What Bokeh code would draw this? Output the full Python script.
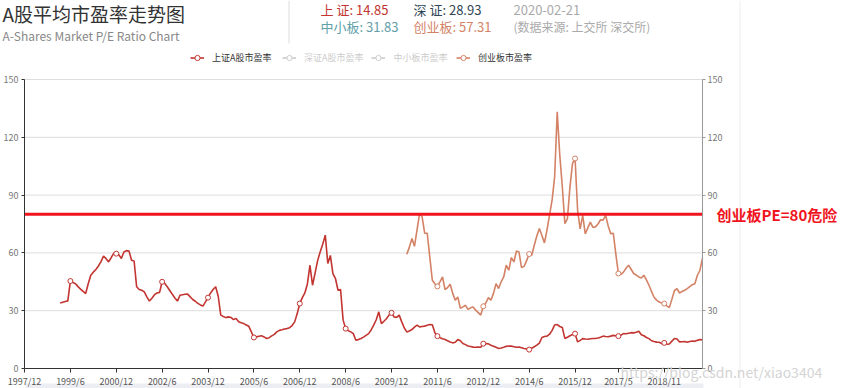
from bokeh.plotting import figure
from bokeh.models import (Range1d, LinearAxis, FixedTicker, Label, Legend, LegendItem,
                          BoxAnnotation)
from bokeh.embed import file_html
from bokeh.resources import INLINE

# ---------------- data ----------------
AXIS_START = "1997/12"
AXIS_END = "2020/2"
TICK_LABELS = ["1997/12", "1999/6", "2000/12", "2002/6", "2003/12", "2005/6", "2006/12",
               "2008/6", "2009/12", "2011/6", "2012/12", "2014/6", "2015/12", "2017/5", "2018/11"]
Y_TICKS = [0, 30, 60, 90, 120, 150]

SERIES_NAMES = ["上证A股市盈率", "深证A股市盈率", "中小板市盈率", "创业板市盈率"]

# 上证A股市盈率, monthly from SH_START
SH_START = "1999/2"
SH_PE = [
    34.0, 34.4, 34.8, 35.1, 45.4, 44.6, 44.0, 42.5, 41.2, 40.0, 38.9,            # 1999/2-1999/12
    44.0, 48.4, 50.0, 51.4, 53.2, 55.5, 58.3, 57.0, 55.3, 57.5, 59.8, 59.6,      # 2000
    59.0, 57.1, 60.5, 61.2, 61.0, 56.2, 55.8, 42.4, 41.0, 40.6, 39.8, 37.2,      # 2001
    35.0, 36.5, 38.3, 39.2, 39.5, 45.0, 44.2, 42.4, 40.5, 38.5, 36.6, 35.0,      # 2002
    38.0, 38.3, 38.5, 38.6, 37.2, 35.8, 34.9, 33.8, 33.0, 32.4, 34.6, 36.8,      # 2003
    39.2, 41.0, 42.4, 37.5, 27.7, 27.0, 26.4, 26.8, 26.5, 25.4, 25.9, 24.3,      # 2004
    23.7, 23.3, 22.6, 21.9, 19.0, 16.1, 16.4, 16.7, 17.0, 16.4, 15.6, 16.0,      # 2005
    16.9, 17.7, 19.0, 19.8, 20.1, 20.5, 20.7, 21.2, 22.3, 24.2, 28.5, 33.7,      # 2006
    36.8, 39.2, 44.0, 53.6, 43.2, 49.5, 56.0, 60.5, 64.5, 69.2, 54.5, 58.7,      # 2007
    49.3, 46.7, 40.6, 41.0, 25.1, 20.7, 19.6, 19.0, 18.1, 14.7, 15.0, 15.6,      # 2008
    16.3, 17.2, 18.1, 20.0, 22.5, 25.3, 29.4, 23.3, 24.5, 25.8, 27.7, 28.9,      # 2009
    26.8, 26.5, 27.7, 24.2, 21.0, 19.0, 19.5, 20.2, 21.5, 22.5, 21.6, 21.8,      # 2010
    22.0, 22.4, 22.8, 22.7, 18.5, 16.8, 16.0, 15.4, 15.0, 14.4, 13.8, 13.3,      # 2011
    13.6, 15.0, 14.4, 13.0, 12.4, 11.7, 11.4, 11.1, 11.0, 11.2, 11.0, 12.9,      # 2012
    13.0, 12.8, 12.1, 11.6, 11.0, 10.4, 10.6, 11.0, 11.5, 11.7, 11.6, 11.3,      # 2013
    11.0, 11.2, 10.8, 10.4, 10.2, 9.8, 10.5, 11.3, 12.1, 13.2, 16.1, 16.6,       # 2014
    16.8, 17.8, 19.8, 22.6, 22.8, 21.8, 21.3, 15.6, 16.2, 17.0, 17.6, 18.1,      # 2015
    13.8, 14.6, 15.5, 15.3, 15.2, 15.4, 15.6, 15.6, 15.8, 16.2, 16.8, 16.6,      # 2016
    16.5, 16.8, 17.2, 17.0, 16.8, 17.3, 18.1, 18.0, 18.3, 18.6, 18.5, 18.8,      # 2017
    19.3, 17.5, 17.0, 16.1, 15.5, 14.4, 14.0, 13.7, 13.6, 12.9, 13.3, 12.6,      # 2018
    12.7, 14.2, 15.6, 15.3, 13.8, 13.9, 14.0, 13.6, 14.0, 14.3, 14.1, 14.6,      # 2019
    15.0, 14.85,                                                                 # 2020
]

# 创业板市盈率, monthly from CY_START
CY_START = "2010/6"
CY_PE = [
    59.3, 63.0, 67.5, 63.4, 72.0, 80.4, 78.7,                                    # 2010/6-12
    70.2, 70.2, 58.0, 45.8, 44.0, 42.6, 45.0, 47.5, 41.0, 42.0, 43.7, 39.0,      # 2011
    35.4, 37.1, 31.2, 32.0, 32.8, 30.7, 31.5, 31.9, 30.3, 29.0, 27.7, 32.3,      # 2012
    34.0, 36.8, 35.4, 39.0, 44.0, 41.5, 45.0, 47.5, 53.6, 51.0, 57.6, 55.3,      # 2013
    61.0, 60.5, 52.4, 53.0, 56.0, 59.4, 58.8, 64.0, 68.8, 72.7, 69.0, 65.2,      # 2014
    72.0, 79.7, 87.5, 99.5, 133.3, 110.8, 94.3, 75.2, 77.8, 94.3, 106.5, 109.0,  # 2015
    82.1, 72.5, 79.5, 69.9, 73.0, 76.0, 73.3, 73.5, 75.0, 77.2, 77.0, 79.5,      # 2016
    74.0, 70.0, 70.2, 59.4, 49.3, 48.9, 50.0, 52.0, 53.6, 51.5, 49.3, 48.5,      # 2017
    47.5, 47.0, 48.4, 46.0, 43.2, 40.0, 37.0, 35.5, 34.5, 34.0, 33.7, 32.5,      # 2018
    31.6, 36.0, 40.5, 41.4, 39.2, 40.0, 40.6, 41.5, 42.5, 43.5, 44.0, 48.4,      # 2019
    51.0, 57.31,                                                                 # 2020
]

DANGER_LEVEL = 80
DANGER_TEXT = "创业板PE=80危险"

TITLE = "A股平均市盈率走势图"
SUBTITLE = "A-Shares Market P/E Ratio Chart"
LATEST_LABELS = ["上 证", "深 证", "中小板", "创业板"]
LATEST_VALUES = ["14.85", "28.93", "31.83", "57.31"]
DATE_TEXT = "2020-02-21"
SOURCE_TEXT = "(数据来源: 上交所 深交所)"
WATERMARK = "https://blog.csdn.net/xiao3404"

# ---------------- helpers ----------------
def month_index(s):
    y, m = s.split("/")
    return (int(y) - 1997) * 12 + int(m) - 12

def month_label(i):
    t = i + 11
    return f"{1997 + t // 12}/{t % 12 + 1}"

def series_xy(start, values):
    s0 = month_index(start)
    return [s0 + k for k in range(len(values))], list(values)

CJK = "Noto Sans CJK SC"
RED, DARK, TEAL, ORANGE = "#c23531", "#2f4554", "#61a0a8", "#d48265"
ALERT = "#f0141e"
OFF = "#cccccc"
NAN = float("nan")

W, H = 845, 388
# plot-area edges inside the canvas (px)
PL, PR, PT, PB = 24, 702, 79, 368

X0, X1 = month_index(AXIS_START), month_index(AXIS_END)
Y0, Y1 = Y_TICKS[0], Y_TICKS[-1]
kx = (PR - PL) / (X1 - X0)
ky = (PB - PT) / (Y1 - Y0)

# the frame covers the whole canvas; axes are pinned at the plot-area edges
p = figure(width=W, height=H, output_backend="svg", toolbar_location=None,
           x_range=Range1d(X0 - PL / kx, X1 + (W - PR) / kx),
           y_range=Range1d(Y0 - (H - PB) / ky, Y1 + PT / ky),
           min_border=0, min_border_left=0, min_border_right=0,
           min_border_top=0, min_border_bottom=0)
p.outline_line_color = None
p.background_fill_color = "white"
p.border_fill_color = "white"
p.grid.visible = False

tick_idx = [month_index(t) for t in TICK_LABELS]
xa = p.xaxis[0]
xa.fixed_location = Y0
xa.bounds = (X0, X1)
xa.ticker = FixedTicker(ticks=tick_idx)
xa.major_label_overrides = {i: month_label(i) for i in tick_idx}
xa.axis_line_color = "#333"
xa.major_tick_line_color = "#333"
xa.major_tick_out = 4
xa.major_tick_in = 0
xa.minor_tick_line_color = None
xa.major_label_standoff = 2
xa.major_label_text_font_size = "9px"
xa.major_label_text_color = "#555"
xa.major_label_text_font = CJK

ya = p.yaxis[0]
ya.fixed_location = X0
ya.bounds = (Y0, Y1)
ya.ticker = FixedTicker(ticks=Y_TICKS)
ya.axis_line_color = "#333"
ya.major_tick_line_color = "#333"
ya.major_tick_out = 3
ya.major_tick_in = 0
ya.minor_tick_line_color = None
ya.major_label_standoff = 3
ya.major_label_text_font_size = "9px"
ya.major_label_text_color = "#777"
ya.major_label_text_font = CJK

ry = LinearAxis(ticker=FixedTicker(ticks=Y_TICKS), fixed_location=X1, bounds=(Y0, Y1))
ry.axis_line_color = "#999"
ry.major_tick_line_color = "#999"
ry.major_tick_out = 3
ry.major_tick_in = 0
ry.minor_tick_line_color = None
ry.major_label_standoff = 2
ry.major_label_text_font_size = "9px"
ry.major_label_text_color = "#777"
ry.major_label_text_font = CJK
p.add_layout(ry, "right")

# horizontal grid lines limited to the plot area
grid_y = [t for t in Y_TICKS if t > Y0]
p.segment(x0=[X0] * len(grid_y), x1=[X1] * len(grid_y), y0=grid_y, y1=grid_y,
          line_color="#dddddd", line_width=1)

# series
sx_, sy_ = series_xy(SH_START, SH_PE)
cx_, cy_ = series_xy(CY_START, CY_PE)
sh_line = p.line(sx_, sy_, line_color=RED, line_width=1.6)
cy_line = p.line(cx_, cy_, line_color=ORANGE, line_width=1.6)
tick_set = set(tick_idx)
sh_mx = [x for x in sx_ if x in tick_set]
sh_my = [y for x, y in zip(sx_, sy_) if x in tick_set]
cy_mx = [x for x in cx_ if x in tick_set]
cy_my = [y for x, y in zip(cx_, cy_) if x in tick_set]
sh_pts = p.scatter(sh_mx, sh_my, marker="circle", size=5, fill_color="white",
                   line_color=RED, line_width=1)
cy_pts = p.scatter(cy_mx, cy_my, marker="circle", size=5, fill_color="white",
                   line_color=ORANGE, line_width=1)
# the two series that are switched off in the legend (nothing drawn in the plot)
sz_line = p.line([X0], [NAN], line_color=OFF, line_width=1.6)
sz_pts = p.scatter([X0], [NAN], marker="circle", size=5, fill_color="white", line_color=OFF)
zx_line = p.line([X0], [NAN], line_color=OFF, line_width=1.6)
zx_pts = p.scatter([X0], [NAN], marker="circle", size=5, fill_color="white", line_color=OFF)

# danger line
p.segment(x0=[X0], x1=[X1], y0=[DANGER_LEVEL], y1=[DANGER_LEVEL], line_color=ALERT, line_width=3)

def sy(py):
    return H - py

p.add_layout(Label(x=716, y=DANGER_LEVEL, x_units="screen", y_units="data",
                   text=DANGER_TEXT, text_color=ALERT, text_font=CJK, text_font_style="bold",
                   text_font_size="15px", text_baseline="middle", text_align="left"))

# legend (three pieces so the switched-off entries can be grey)
def make_legend(items, x, color):
    lg = Legend(items=items, orientation="horizontal", location=(x, sy(64)),
                background_fill_alpha=0, border_line_alpha=0, padding=0, margin=0, spacing=8,
                label_standoff=8, glyph_width=14, glyph_height=13, label_height=12,
                label_text_font_size="9px", label_text_color=color, label_text_font=CJK)
    p.add_layout(lg)

make_legend([LegendItem(label=SERIES_NAMES[0], renderers=[sh_line, sh_pts])], 190, "#333")
make_legend([LegendItem(label=SERIES_NAMES[1], renderers=[sz_line, sz_pts]),
             LegendItem(label=SERIES_NAMES[2], renderers=[zx_line, zx_pts])], 282, OFF)
make_legend([LegendItem(label=SERIES_NAMES[3], renderers=[cy_line, cy_pts])], 456, "#333")

# header texts
def header(text, x, y, size, color):
    p.add_layout(Label(x=x, y=sy(y), x_units="screen", y_units="screen", text=text,
                       text_font=CJK, text_font_size=size, text_color=color,
                       text_baseline="middle", text_align="left"))

header(TITLE, 2, 13, "19px", "#333")
header(SUBTITLE, 2, 35, "12px", "#888")
header(f"{LATEST_LABELS[0]}: {LATEST_VALUES[0]}", 320, 9, "13px", RED)
header(f"{LATEST_LABELS[1]}: {LATEST_VALUES[1]}", 413, 9, "13px", DARK)
header(DATE_TEXT, 513, 9, "13px", "#aaa")
header(f"{LATEST_LABELS[2]}: {LATEST_VALUES[2]}", 320, 26, "13px", TEAL)
header(f"{LATEST_LABELS[3]}: {LATEST_VALUES[3]}", 413, 26, "13px", ORANGE)
header(SOURCE_TEXT, 513, 26, "12px", "#aaa")
header(WATERMARK, 620, 371, "14px", "#d4d4d4")

# page decorations: header separator, right page edge, bottom band
p.add_layout(BoxAnnotation(left=288, right=289, top=sy(0), bottom=sy(43),
                           left_units="screen", right_units="screen", top_units="screen",
                           bottom_units="screen", fill_color="#dddddd", fill_alpha=1,
                           line_alpha=0))
p.add_layout(BoxAnnotation(left=739, right=740, top=sy(0), bottom=sy(388),
                           left_units="screen", right_units="screen", top_units="screen",
                           bottom_units="screen", fill_color="#eeeeee", fill_alpha=1,
                           line_alpha=0, level="underlay"))
p.add_layout(BoxAnnotation(left=25, right=703, top=sy(383), bottom=sy(388),
                           left_units="screen", right_units="screen", top_units="screen",
                           bottom_units="screen", fill_color="#eceef3", fill_alpha=1,
                           line_alpha=0, level="underlay"))

open("out.html", "w").write(file_html(p, INLINE))
